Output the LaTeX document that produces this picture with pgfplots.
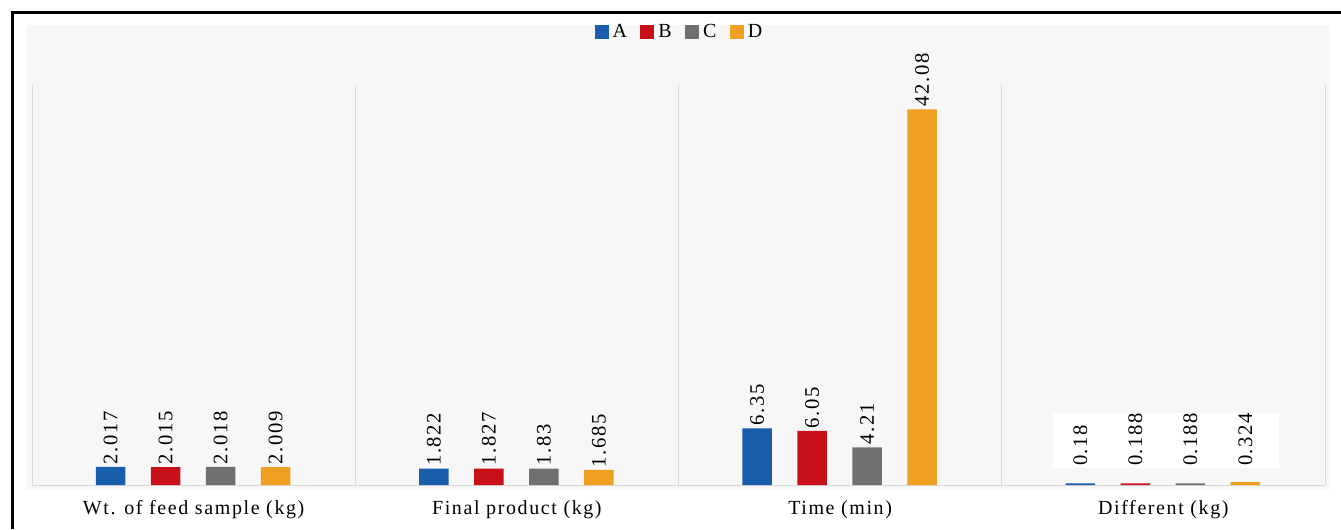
\documentclass[border=0pt]{standalone}
\usepackage{fontspec}
\setmainfont{Liberation Serif}[LetterSpace=8]
\usepackage{pgfplots}
\pgfplotsset{compat=1.18}
\definecolor{cA}{RGB}{24,94,170}
\definecolor{cB}{RGB}{200,16,24}
\definecolor{cC}{RGB}{112,112,112}
\definecolor{cD}{RGB}{240,160,32}
\definecolor{panel}{RGB}{247,247,247}
\definecolor{sep}{RGB}{217,217,217}
\pgfplotsset{
  mybar/.style={ybar, bar width=22pt, draw=none, fill=#1,
    legend image code/.code={\fill[#1] (0pt,-5pt) rectangle (10.5pt,5pt);}},
  mylab/.style={draw=none, mark=none, forget plot,
    nodes near coords, point meta=explicit symbolic,
    every node near coord/.append style={rotate=90, anchor=west, inner sep=2pt,
      text=black, font=\fontsize{15.5}{18}\selectfont}},
}
\begin{document}
\begin{tikzpicture}
\useasboundingbox (0,0) rectangle (1005.75pt,396.75pt);
\fill[panel] (19.5pt,29.25pt) rectangle (997.5pt,378pt);
\draw[line width=2.25pt] (9.375pt,0pt) -- (9.375pt,387.4pt) -- (1006pt,387.4pt);
\begin{axis}[
  at={(24pt,33pt)}, anchor=south west,
  scale only axis, width=969.75pt, height=300pt,
  xmin=-0.5, xmax=3.5, ymin=0, ymax=44.8,
  axis x line*=bottom, axis y line=none,
  x axis line style={draw=sep, line width=0.75pt},
  xtick={0,1,2,3},
  xticklabels={Wt. of feed sample (kg), Final product (kg), Time (min), Different (kg)},
  major tick length=0pt,
  minor xtick={-0.5,0.5,1.5,2.5,3.5},
  minor tick length=0pt,
  xminorgrids, minor grid style={draw=sep, line width=0.75pt},
  ytick=\empty,
  xticklabel style={font=\fontsize{15}{18}\selectfont, yshift=-8pt},
  clip=false,
  legend style={at={(0.501,1.1325)}, anchor=center, draw=none, fill=none,
    legend columns=-1, font=\fontsize{15}{17}\selectfont,
    /tikz/every odd column/.append style={column sep=1pt},
    /tikz/every even column/.append style={column sep=8pt}},
]
\addplot[mybar=cA, bar shift=-62.25pt] table {
x y
0 2.017
1 1.822
2 6.35
3 0.18
};
\addplot[mybar=cB, bar shift=-21pt] table {
x y
0 2.015
1 1.827
2 6.05
3 0.188
};
\addplot[mybar=cC, bar shift=20.25pt] table {
x y
0 2.018
1 1.83
2 4.21
3 0.188
};
\addplot[mybar=cD, bar shift=61.5pt] table {
x y
0 2.009
1 1.685
2 42.08
3 0.324
};
\legend{A,B,C,D}
\fill[white] (axis cs:2.658,1.9) rectangle (axis cs:3.358,8.05);
\addplot[mylab] table[meta=l] {
x y l
-0.2568 2.017 2.017
0.7432 1.822 1.822
1.7432 6.35 6.35
2.7432 1.8 0.18
};
\addplot[mylab] table[meta=l] {
x y l
-0.0866 2.015 2.015
0.9134 1.827 1.827
1.9134 6.05 6.05
2.9134 1.8 0.188
};
\addplot[mylab] table[meta=l] {
x y l
0.0835 2.018 2.018
1.0835 1.83 1.83
2.0835 4.21 4.21
3.0835 1.8 0.188
};
\addplot[mylab] table[meta=l] {
x y l
0.2537 2.009 2.009
1.2537 1.685 1.685
2.2537 42.08 42.08
3.2537 1.8 0.324
};
\end{axis}
\end{tikzpicture}
\end{document}
